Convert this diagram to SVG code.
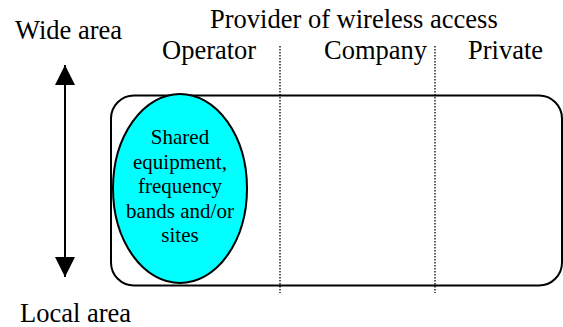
<svg xmlns="http://www.w3.org/2000/svg" width="563" height="327" viewBox="0 0 563 327">
<style>
.h{font-size:26.5px}
.e{font-size:21px;text-anchor:middle}
.dot{stroke:#000;stroke-width:1.3;stroke-dasharray:1.5 1.5;fill:none}
</style>
<defs>
<marker id="ah" markerWidth="20" markerHeight="20" refX="20" refY="10" orient="auto-start-reverse" markerUnits="userSpaceOnUse" viewBox="0 0 20 20">
<path d="M0,0 L20,10 L0,20 Z" fill="#000"/>
</marker>
</defs>
<g font-family="'Liberation Serif', 'Times New Roman', 'DejaVu Serif', serif" fill="#000">
<g id="labels">
<text class="h" x="15" y="39">Wide area</text>
<text class="h" x="210" y="28">Provider of wireless access</text>
<text class="h" x="162" y="59">Operator</text>
<text class="h" x="324" y="59">Company</text>
<text class="h" x="468" y="59">Private</text>
<text class="h" x="20" y="322">Local area</text>
</g>
<g id="columns">
<line class="dot" x1="280" y1="46" x2="280" y2="293"/>
<line class="dot" x1="435" y1="46" x2="435" y2="293"/>
</g>
<g id="area">
<rect x="111" y="95.5" width="451" height="190" rx="23" ry="23" fill="none" stroke="#000" stroke-width="2"/>
</g>
<g id="shared">
<ellipse cx="180" cy="188.5" rx="67" ry="94.5" fill="#00FFFF" stroke="#000" stroke-width="2"/>
<text class="e" x="180" y="144">Shared</text>
<text class="e" x="180" y="168.5">equipment,</text>
<text class="e" x="180" y="193">frequency</text>
<text class="e" x="180" y="217.5">bands and/or</text>
<text class="e" x="180" y="241.5">sites</text>
</g>
<g id="connectors">
<line x1="65" y1="65" x2="65" y2="277" stroke="#000" stroke-width="2" marker-start="url(#ah)" marker-end="url(#ah)"/>
</g>
</g>
</svg>
